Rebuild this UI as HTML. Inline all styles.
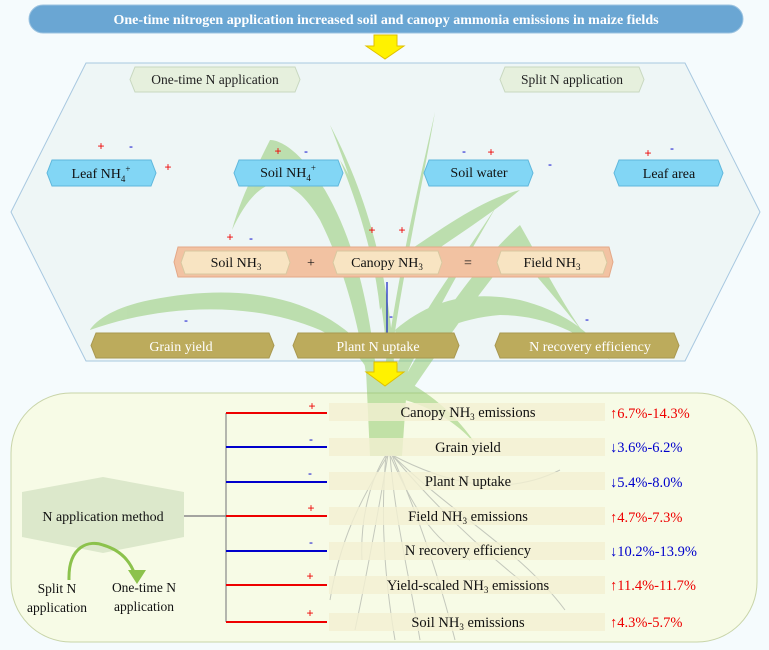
<!DOCTYPE html>
<html><head><meta charset="utf-8"><style>
html,body{margin:0;padding:0;background:#f5fbfd;}
svg{display:block;font-family:"Liberation Serif",serif;}
</style></head><body>
<svg width="769" height="650" viewBox="0 0 769 650" xmlns="http://www.w3.org/2000/svg">
<rect width="769" height="650" fill="#f5fbfd"/>
<rect x="29" y="5" width="714" height="28" rx="14" fill="#6aa6d3" stroke="#9cc3e0"/>
<text x="386" y="24" text-anchor="middle" fill="#fff" font-size="14" font-weight="bold">One-time nitrogen application increased soil and canopy ammonia emissions in maize fields</text>
<polygon points="374,35 397,35 397,46 404,46 385,59 366,46 374,46" fill="#fff200" stroke="#e0c000"/>
<polygon points="86,63 685,63 760,212 685,361 86,361 11,212" fill="#eef6f6" stroke="#a8c8e0"/>
<!-- bottom panel drawn before plant so stem shows over it -->
<rect x="11" y="393" width="746" height="249" rx="60" fill="#f7fbe6" stroke="#c8d4a8"/>
<g fill="#8cc868" opacity="0.5">
<path d="M380,420 C375,330 360,250 325,190 C300,150 280,140 270,140 C255,170 240,200 232,230 C260,170 290,170 320,220 C350,280 365,350 372,420Z"/>
<path d="M385,420 C390,330 420,200 435,112 C420,180 395,280 378,420Z"/>
<path d="M388,420 C392,300 360,200 330,125 C370,200 398,300 395,420Z"/>
<path d="M390,380 C420,310 470,250 500,200 C460,270 430,320 395,400Z"/>
<path d="M392,400 C430,330 480,260 520,225 C540,260 560,300 585,335 C550,290 530,270 515,250 C480,290 440,350 398,410Z"/>
<path d="M375,360 C330,300 250,280 150,300 C100,310 90,330 90,330 C160,305 250,300 320,330 C350,345 365,360 372,380Z"/>
<path d="M395,330 C430,300 470,290 520,300 C560,310 590,330 610,360 C580,330 540,315 500,315 C460,318 425,335 398,350Z"/>
<path d="M385,300 C380,250 365,200 340,160 C360,210 375,260 380,310Z"/>
<path d="M395,260 C440,230 480,200 520,190 C490,215 450,240 400,275Z"/>
<path d="M405,380 C440,400 460,420 480,450 C465,430 440,410 405,400Z"/>
<path d="M366,370 L408,370 L402,456 L370,456Z"/>
</g>
<g stroke="#c4c8bc" stroke-width="1" fill="none">
<path d="M388,455 C380,500 370,560 355,630"/>
<path d="M390,455 C395,520 410,580 420,640"/>
<path d="M392,455 C430,500 470,540 520,580"/>
<path d="M388,455 C360,500 340,540 330,600"/>
<path d="M392,455 C440,480 500,500 560,470"/>
<path d="M392,455 C420,520 440,580 455,640"/>
<path d="M386,455 C380,520 385,580 395,640"/>
<path d="M392,455 C460,520 520,550 565,610"/>
<path d="M390,455 C410,500 430,540 470,560"/>
<path d="M386,455 C370,480 360,520 362,560"/>
</g>
<polygon points="135,67 295,67 300,79.5 295,92 135,92 130,79.5" fill="#e6f0dd" stroke="#c8d8c0"/>
<text x="215" y="84" text-anchor="middle" font-size="13.5" fill="#222">One-time N application</text>
<polygon points="505,67 639,67 644,79.5 639,92 505,92 500,79.5" fill="#e6f0dd" stroke="#c8d8c0"/>
<text x="572" y="84" text-anchor="middle" font-size="13.5" fill="#222">Split N application</text>
<g fill="#82d6f5" stroke="#5fb7dc">
<polygon points="52,160 151,160 156,173 151,186 52,186 47,173"/>
<polygon points="239,160 338,160 343,173 338,186 239,186 234,173"/>
<polygon points="429,160 528,160 533,173 528,186 429,186 424,173"/>
<polygon points="619,160 718,160 723,173 718,186 619,186 614,173"/>
</g>
<g font-size="14" fill="#111" text-anchor="middle">
<text x="101" y="178">Leaf NH<tspan font-size="9" dy="4">4</tspan><tspan font-size="9" dy="-10">+</tspan></text>
<text x="288" y="177">Soil NH<tspan font-size="9" dy="4">4</tspan><tspan font-size="9" dy="-10">+</tspan></text>
<text x="479" y="177">Soil water</text>
<text x="669" y="178">Leaf area</text>
</g>
<g font-size="12" font-family="Liberation Sans,sans-serif" text-anchor="middle">
<text x="101" y="150" fill="#e00">+</text><text x="131" y="150" fill="#00c">-</text>
<text x="168" y="171" fill="#e00">+</text>
<text x="278" y="155" fill="#e00">+</text><text x="306" y="155" fill="#00c">-</text>
<text x="464" y="155" fill="#00c">-</text><text x="491" y="156" fill="#e00">+</text>
<text x="550" y="168" fill="#00c">-</text>
<text x="648" y="157" fill="#e00">+</text><text x="672" y="152" fill="#00c">-</text>
<text x="230" y="241" fill="#e00">+</text><text x="251" y="242" fill="#00c">-</text>
<text x="372" y="234" fill="#e00">+</text><text x="402" y="234" fill="#e00">+</text>
<text x="391" y="320" fill="#00c">-</text>
<text x="186" y="324" fill="#00c">-</text><text x="587" y="323" fill="#00c">-</text>
</g>
<polygon points="178,247 609,247 613,262 609,277 178,277 174,262" fill="#f2c2a2" stroke="#e4a888"/>
<g fill="#f8e4c2" stroke="#d8c8a0">
<polygon points="185,251 286,251 290,262.5 286,274 185,274 181,262.5"/>
<polygon points="337,251 438,251 442,262.5 438,274 337,274 333,262.5"/>
<polygon points="501,251 603,251 607,262.5 603,274 501,274 497,262.5"/>
</g>
<g font-size="14" fill="#111" text-anchor="middle">
<text x="236" y="267">Soil NH<tspan font-size="9" dy="3">3</tspan></text>
<text x="387" y="267">Canopy NH<tspan font-size="9" dy="3">3</tspan></text>
<text x="552" y="267">Field NH<tspan font-size="9" dy="3">3</tspan></text>
<text x="311" y="267">+</text><text x="468" y="267">=</text>
</g>
<line x1="387" y1="282" x2="387" y2="333" stroke="#1020c0" stroke-width="1.2"/>
<g fill="#bcab5c" stroke="#a89850">
<polygon points="96,333 269,333 274,345.5 269,358 96,358 91,345.5"/>
<polygon points="298,333 454,333 459,345.5 454,358 298,358 293,345.5"/>
<polygon points="500,333 674,333 679,345.5 674,358 500,358 495,345.5"/>
</g>
<g font-size="14" fill="#fff" text-anchor="middle">
<text x="181" y="351">Grain yield</text>
<text x="378" y="351">Plant N uptake</text>
<text x="590" y="351">N recovery efficiency</text>
</g>
<polygon points="374,362 397,362 397,372 404,372 385,386 366,372 374,372" fill="#fff200" stroke="#e0c000"/>
<polygon points="103,477 184,492 184,537 103,553 22,537 22,492" fill="#dce8cb"/>
<text x="103" y="521" text-anchor="middle" font-size="14" fill="#111">N application method</text>
<path d="M69,580 C68,545 90,540 103,545 C120,550 130,560 135,575" fill="none" stroke="#8cc24c" stroke-width="3"/>
<polygon points="128,570 146,570 137,584" fill="#8cc24c"/>
<g font-size="13.5" fill="#111" text-anchor="middle">
<text x="57" y="593">Split N</text><text x="57" y="612">application</text>
<text x="144" y="592">One-time N</text><text x="144" y="611">application</text>
</g>
<line x1="184" y1="516" x2="226" y2="516" stroke="#888" stroke-width="1.5"/>
<line x1="226" y1="413" x2="226" y2="622" stroke="#888" stroke-width="1.2"/>
<g stroke-width="2">
<line x1="226" y1="413" x2="327" y2="413" stroke="#e00"/>
<line x1="226" y1="447" x2="327" y2="447" stroke="#00c"/>
<line x1="226" y1="482" x2="327" y2="482" stroke="#00c"/>
<line x1="226" y1="516" x2="327" y2="516" stroke="#e00"/>
<line x1="226" y1="551" x2="327" y2="551" stroke="#00c"/>
<line x1="226" y1="585" x2="327" y2="585" stroke="#e00"/>
<line x1="226" y1="622" x2="327" y2="622" stroke="#e00"/>
</g>
<g font-size="12" font-family="Liberation Sans,sans-serif" text-anchor="middle">
<text x="312" y="410" fill="#e00">+</text>
<text x="311" y="443" fill="#00c">-</text>
<text x="310" y="477" fill="#00c">-</text>
<text x="311" y="512" fill="#e00">+</text>
<text x="311" y="546" fill="#00c">-</text>
<text x="310" y="580" fill="#e00">+</text>
<text x="310" y="617" fill="#e00">+</text>
</g>
<g fill="#f2f0d2" fill-opacity="0.8">
<rect x="329" y="403" width="276" height="18"/>
<rect x="329" y="438" width="276" height="18"/>
<rect x="329" y="472" width="276" height="18"/>
<rect x="329" y="507" width="276" height="18"/>
<rect x="329" y="542" width="276" height="18"/>
<rect x="329" y="576" width="276" height="18"/>
<rect x="329" y="613" width="276" height="18"/>
</g>
<g font-size="14.5" fill="#111" text-anchor="middle">
<text x="468" y="417">Canopy NH<tspan font-size="9" dy="3">3</tspan><tspan dy="-3"> emissions</tspan></text>
<text x="468" y="452">Grain yield</text>
<text x="468" y="486">Plant N uptake</text>
<text x="468" y="521">Field NH<tspan font-size="9" dy="3">3</tspan><tspan dy="-3"> emissions</tspan></text>
<text x="468" y="555">N recovery efficiency</text>
<text x="468" y="590">Yield-scaled NH<tspan font-size="9" dy="3">3</tspan><tspan dy="-3"> emissions</tspan></text>
<text x="468" y="627">Soil NH<tspan font-size="9" dy="3">3</tspan><tspan dy="-3"> emissions</tspan></text>
</g>
<g font-size="14.5">
<text x="610" y="418" fill="#e00">↑6.7%-14.3%</text>
<text x="610" y="452" fill="#00c">↓3.6%-6.2%</text>
<text x="610" y="487" fill="#00c">↓5.4%-8.0%</text>
<text x="610" y="522" fill="#e00">↑4.7%-7.3%</text>
<text x="610" y="556" fill="#00c">↓10.2%-13.9%</text>
<text x="610" y="590" fill="#e00">↑11.4%-11.7%</text>
<text x="610" y="627" fill="#e00">↑4.3%-5.7%</text>
</g>
</svg>
</body></html>
